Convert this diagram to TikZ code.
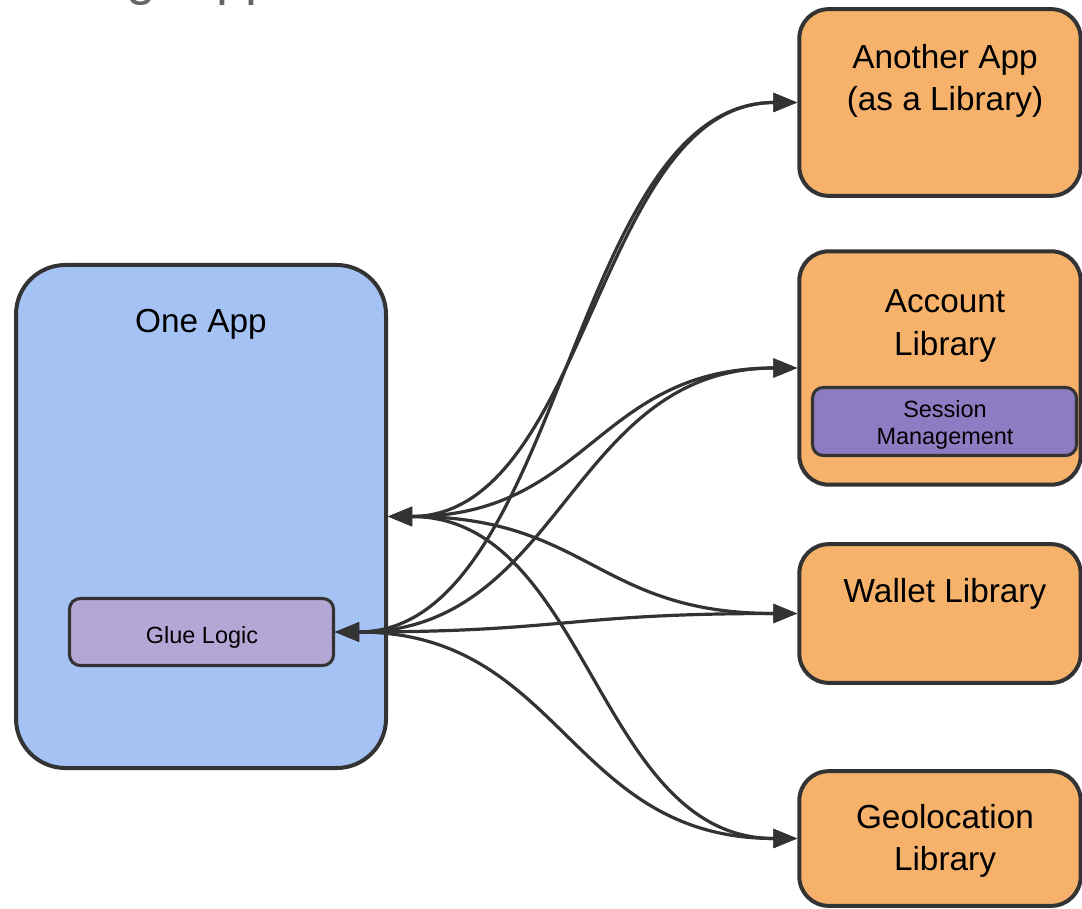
\documentclass[tikz,border=0pt]{standalone}
\usepackage{fontspec}
\setmainfont{Liberation Sans}
\usetikzlibrary{arrows.meta}
\definecolor{edge}{HTML}{333333}
\definecolor{appblue}{HTML}{A4C2F4}
\definecolor{liborange}{HTML}{F6B26B}
\definecolor{gluepurple}{HTML}{B4A7D6}
\definecolor{sesspurple}{HTML}{8E7CC3}
\definecolor{titlegray}{HTML}{666666}
\tikzset{
  box/.style={draw=edge, line width=3pt, inner sep=0pt, rectangle},
  appbox/.style={box, fill=appblue, rounded corners=37pt},
  libbox/.style={box, fill=liborange, rounded corners=22pt},
  smallbox/.style={draw=edge, line width=2.3pt, inner sep=0pt, rectangle, rounded corners=8pt},
  bigtext/.style={anchor=base, inner sep=0pt, font=\fontsize{25}{30}\selectfont},
  smalltext/.style={anchor=base, inner sep=0pt, font=\fontsize{17.6}{21}\selectfont},
  titletext/.style={anchor=base west, inner sep=0pt, text=titlegray, font=\fontsize{40}{48}\selectfont},
  conn/.style={draw=edge, line width=2.4pt, {Triangle[length=18pt,width=14pt]}-{Triangle[length=18pt,width=14pt]}},
}
\begin{document}
\begin{tikzpicture}[x=0.75pt, y=-0.75pt]
\useasboundingbox (0,0) rectangle (1082,909);
\clip (0,0) rectangle (1082,909);
% title fragments cut by the top edge
\node[titletext] (tg) at (126,-5) {g};
\node[titletext] (tpp) at (216,-5) {pp};
% left
\node[appbox, minimum width=277.5pt, minimum height=377.25pt] (oneapp) at (201,516.5) {};
\node[bigtext] (oneapptxt) at (201,333) {One App};
\node[smallbox, fill=gluepurple, minimum width=198pt, minimum height=50.25pt] (glue) at (201.5,632) {};
\node[smalltext] (gluetxt) at (202,643) {Glue Logic};
% right
\node[libbox, minimum width=211pt, minimum height=140pt] (another) at (940,102.5) {};
\node[bigtext] (anothertxt1) at (945,69) {Another App};
\node[bigtext] (anothertxt2) at (945,111) {(as a Library)};
\node[libbox, minimum width=211pt, minimum height=175pt] (account) at (940,368) {};
\node[bigtext] (accounttxt1) at (945,313) {Account};
\node[bigtext] (accounttxt2) at (945,355) {Library};
\node[smallbox, fill=sesspurple, minimum width=198pt, minimum height=51pt] (session) at (944.5,421.5) {};
\node[smalltext] (sessiontxt1) at (945,417) {Session};
\node[smalltext] (sessiontxt2) at (945,444) {Management};
\node[libbox, minimum width=211pt, minimum height=104pt] (wallet) at (940,613.5) {};
\node[bigtext] (wallettxt) at (945,602) {Wallet Library};
\node[libbox, minimum width=211pt, minimum height=101pt] (geo) at (940,838.5) {};
\node[bigtext] (geotxt1) at (945,828) {Geolocation};
\node[bigtext] (geotxt2) at (945,870) {Library};
% connectors from One App
\draw[conn] (oneapp.east) .. controls +(201,0) and +(-201,0) .. (another.west);
\draw[conn] (oneapp.east) .. controls +(201,0) and +(-201,0) .. (account.west);
\draw[conn] (oneapp.east) .. controls +(201,0) and +(-201,0) .. (wallet.west);
\draw[conn] (oneapp.east) .. controls +(201,0) and +(-201,0) .. (geo.west);
% connectors from Glue Logic
\draw[conn] (glue.east) .. controls +(228,0) and +(-228,0) .. (another.west);
\draw[conn] (glue.east) .. controls +(228,0) and +(-228,0) .. (account.west);
\draw[conn] (glue.east) .. controls +(228,0) and +(-228,0) .. (wallet.west);
\draw[conn] (glue.east) .. controls +(228,0) and +(-228,0) .. (geo.west);
\end{tikzpicture}
\end{document}
